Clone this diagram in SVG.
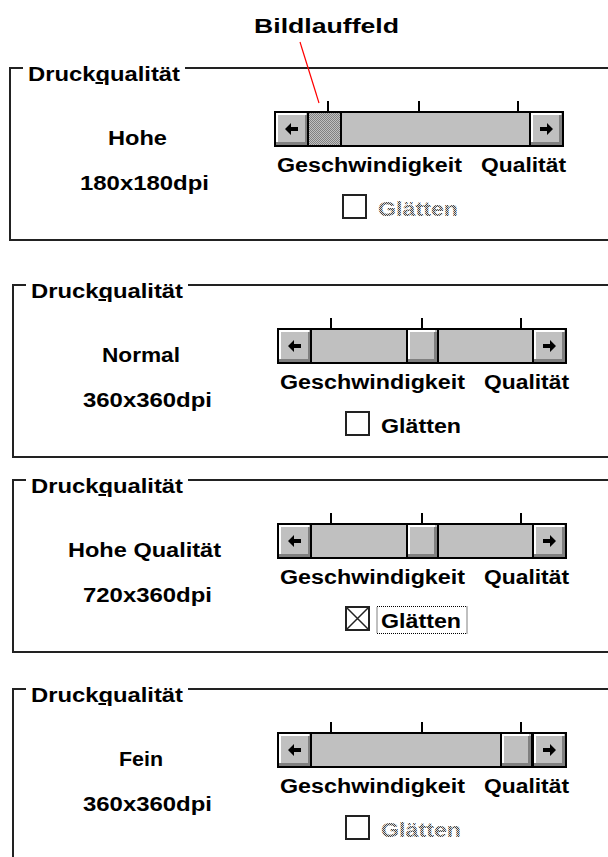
<svg xmlns="http://www.w3.org/2000/svg" width="608" height="857" viewBox="0 0 608 857">
<style>
.t{font-family:"Liberation Sans",Arial,sans-serif;font-weight:bold;font-size:20px;fill:#000}
.dis{fill:url(#dots)}
.frame{fill:none;stroke:#222;stroke-width:2}
.tick{stroke:#000;stroke-width:2}
.sb{fill:#c0c0c0;stroke:#000;stroke-width:2}
.face{fill:#c0c0c0}
.hi{fill:#fff}
.sh{fill:#808080}
.blk{fill:#000}
.cb{fill:#fff;stroke:#222;stroke-width:2}
</style>
<defs>
<pattern id="dots" width="2" height="2" patternUnits="userSpaceOnUse">
<rect width="2" height="2" fill="#d8d8d8"/>
<rect x="0" y="0" width="1" height="1" fill="#444"/>
<rect x="1" y="1" width="1" height="1" fill="#444"/>
</pattern>
<pattern id="thumbdots" width="2" height="2" patternUnits="userSpaceOnUse">
<rect width="2" height="2" fill="#c0c0c0"/>
<rect x="0" y="0" width="1" height="1" fill="#808080"/>
<rect x="1" y="1" width="1" height="1" fill="#808080"/>
</pattern>
<g id="scrollbase">
<rect class="sb" x="265" y="44" width="288" height="34"/>
<rect class="face" x="266" y="45" width="32" height="32"/>
<rect class="hi" x="266" y="45" width="30" height="2"/>
<rect class="hi" x="266" y="45" width="2" height="30"/>
<rect class="sh" x="266" y="74" width="32" height="3"/>
<rect class="sh" x="295" y="47" width="3" height="30"/>
<rect class="blk" x="297" y="45" width="2" height="32"/>
<polygon class="blk" points="275,61 281,55 281,59 288,59 288,63 281,63 281,67"/>
<rect class="face" x="520" y="45" width="32" height="32"/>
<rect class="hi" x="521" y="45" width="30" height="2"/>
<rect class="hi" x="521" y="45" width="2" height="30"/>
<rect class="sh" x="520" y="74" width="32" height="3"/>
<rect class="sh" x="549" y="47" width="3" height="30"/>
<rect class="blk" x="519" y="45" width="2" height="32"/>
<polygon class="blk" points="543,61 537,55 537,59 530,59 530,63 537,63 537,67"/>
<line class="tick" x1="318" y1="33" x2="318" y2="44"/>
<line class="tick" x1="409" y1="33" x2="409" y2="44"/>
<line class="tick" x1="508" y1="33" x2="508" y2="44"/>
</g>
<g id="thumb">
<rect class="blk" x="0" y="45" width="2" height="32"/>
<rect class="face" x="2" y="45" width="29" height="32"/>
<rect class="hi" x="2" y="45" width="27" height="2"/>
<rect class="hi" x="2" y="45" width="2" height="30"/>
<rect class="sh" x="2" y="74" width="29" height="3"/>
<rect class="sh" x="28" y="47" width="3" height="30"/>
<rect class="blk" x="31" y="45" width="2" height="32"/>
</g>
</defs>

<g id="bildlauffeld-label">
<text class="t" x="254" y="33" textLength="145" lengthAdjust="spacingAndGlyphs">Bildlauffeld</text>
</g>

<g id="panel-hohe" transform="translate(10,68)">
<path class="frame" d="M13,0 H0 V172 H600 M175,0 H600"/>
<text class="t" x="18" y="13" textLength="152" lengthAdjust="spacingAndGlyphs">Druck<tspan text-decoration="underline">q</tspan>ualität</text>
<text class="t" x="98" y="77" textLength="59" lengthAdjust="spacingAndGlyphs">Hohe</text>
<text class="t" x="70" y="122" textLength="129" lengthAdjust="spacingAndGlyphs">180x180dpi</text>
<use href="#scrollbase"/>
<rect fill="url(#thumbdots)" x="299" y="45" width="31" height="32"/>
<rect class="blk" x="330" y="45" width="2" height="32"/>
<text class="t" x="267" y="104" textLength="185" lengthAdjust="spacingAndGlyphs">Geschwindigkeit</text>
<text class="t" x="471" y="104" textLength="85" lengthAdjust="spacingAndGlyphs">Qualität</text>
<rect class="cb" x="333" y="127" width="23" height="23"/>
<text class="t dis" x="368" y="148" textLength="80" lengthAdjust="spacingAndGlyphs">Glätten</text>
</g>

<g id="panel-normal" transform="translate(13,285)">
<path class="frame" d="M13,0 H0 V172 H600 M175,0 H600"/>
<text class="t" x="18" y="13" textLength="152" lengthAdjust="spacingAndGlyphs">Druck<tspan text-decoration="underline">q</tspan>ualität</text>
<text class="t" x="89" y="77" textLength="78" lengthAdjust="spacingAndGlyphs">Normal</text>
<text class="t" x="70" y="122" textLength="129" lengthAdjust="spacingAndGlyphs">360x360dpi</text>
<use href="#scrollbase"/>
<use href="#thumb" x="393"/>
<text class="t" x="267" y="104" textLength="185" lengthAdjust="spacingAndGlyphs">Geschwindigkeit</text>
<text class="t" x="471" y="104" textLength="85" lengthAdjust="spacingAndGlyphs">Qualität</text>
<rect class="cb" x="333" y="127" width="23" height="23"/>
<text class="t" x="368" y="148" textLength="80" lengthAdjust="spacingAndGlyphs">Glätten</text>
</g>

<g id="panel-hohe-qualitaet" transform="translate(13,480)">
<path class="frame" d="M13,0 H0 V172 H600 M175,0 H600"/>
<text class="t" x="18" y="13" textLength="152" lengthAdjust="spacingAndGlyphs">Druck<tspan text-decoration="underline">q</tspan>ualität</text>
<text class="t" x="55" y="77" textLength="153" lengthAdjust="spacingAndGlyphs">Hohe Qualität</text>
<text class="t" x="70" y="122" textLength="129" lengthAdjust="spacingAndGlyphs">720x360dpi</text>
<use href="#scrollbase"/>
<use href="#thumb" x="393"/>
<text class="t" x="267" y="104" textLength="185" lengthAdjust="spacingAndGlyphs">Geschwindigkeit</text>
<text class="t" x="471" y="104" textLength="85" lengthAdjust="spacingAndGlyphs">Qualität</text>
<rect class="cb" x="333" y="127" width="23" height="23"/>
<path d="M334,128 L355,149 M355,128 L334,149" stroke="#222" stroke-width="1.5"/>
<rect x="364" y="126.5" width="90" height="27" fill="none" stroke="#000" stroke-width="1" stroke-dasharray="1,1"/>
<text class="t" x="368" y="148" textLength="80" lengthAdjust="spacingAndGlyphs">Glätten</text>
</g>

<g id="panel-fein" transform="translate(13,689)">
<path class="frame" d="M13,0 H0 V172 H600 M175,0 H600"/>
<text class="t" x="18" y="13" textLength="152" lengthAdjust="spacingAndGlyphs">Druck<tspan text-decoration="underline">q</tspan>ualität</text>
<text class="t" x="106" y="77" textLength="44" lengthAdjust="spacingAndGlyphs">Fein</text>
<text class="t" x="70" y="122" textLength="129" lengthAdjust="spacingAndGlyphs">360x360dpi</text>
<use href="#scrollbase"/>
<use href="#thumb" x="487"/>
<text class="t" x="267" y="104" textLength="185" lengthAdjust="spacingAndGlyphs">Geschwindigkeit</text>
<text class="t" x="471" y="104" textLength="85" lengthAdjust="spacingAndGlyphs">Qualität</text>
<rect class="cb" x="333" y="127" width="23" height="23"/>
<text class="t dis" x="368" y="148" textLength="80" lengthAdjust="spacingAndGlyphs">Glätten</text>
</g>

<g id="connectors">
<line x1="300" y1="42" x2="319" y2="103" stroke="#f00" stroke-width="1.2"/>
</g>
</svg>
